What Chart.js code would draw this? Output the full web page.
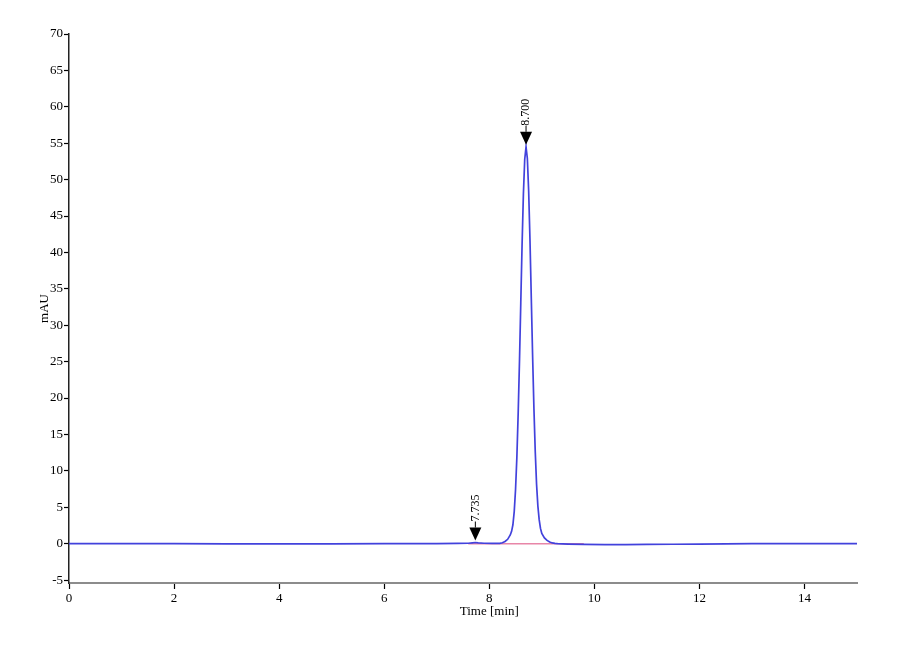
<!DOCTYPE html>
<html>
<head>
<meta charset="utf-8">
<script src="https://cdn.jsdelivr.net/npm/chart.js@4/dist/chart.umd.min.js"></script>
<style>
  html, body { margin: 0; padding: 0; background: #fff; }
  #wrap { width: 900px; height: 660px; }
</style>
</head>
<body>
<div id="wrap"><canvas id="chromChart" width="900" height="660"></canvas></div>
<script>
// ==========================================
// 1. DATA
// ==========================================
const timeMin = [
  0, 1, 2, 3, 4, 5, 6, 6.5, 7, 7.4, 7.6, 7.68, 7.735, 7.79, 7.9, 8.05, 8.2,
  8.25, 8.3, 8.35, 8.4, 8.425, 8.45, 8.475, 8.5, 8.525, 8.55, 8.575, 8.6, 8.625, 8.65, 8.675,
  8.7,
  8.725, 8.75, 8.775, 8.8, 8.825, 8.85, 8.875, 8.9, 8.925, 8.95, 8.975, 9.0, 9.05, 9.1, 9.15, 9.2, 9.25,
  9.3, 9.5, 9.8, 10.2, 10.6, 11, 11.5, 12, 12.5, 13, 13.5, 14, 14.5, 15
];
const signalMAU = [
  0.0, 0.0, 0.0, -0.02, -0.03, -0.02, 0.0, 0.0, 0.02, 0.03, 0.06, 0.12, 0.16, 0.12, 0.06, 0.04, 0.04,
  0.12, 0.3, 0.6, 1.2, 1.7, 2.6, 4.4, 7.4, 11.8, 17.8, 25.0, 33.1, 41.2, 48.1, 52.8,
  54.5,
  52.9, 48.4, 41.7, 33.7, 25.8, 18.6, 12.7, 8.2, 5.2, 3.3, 2.1, 1.4, 0.8, 0.45, 0.22, 0.1, 0.04,
  0.0, -0.05, -0.1, -0.12, -0.12, -0.1, -0.08, -0.05, -0.03, 0.0, 0.02, 0.02, 0.0, 0.0
];

// integration baseline (pink) under the peaks
const baseTime = [7.6, 9.8];
const baseMAU = [0.0, 0.0];

// peak marks
const peakTimes = [7.735, 8.700];
const peakHeights = [0.16, 54.5];
const peakLabels = ["7.735", "8.700"];

// axes
const xTicks = [0, 2, 4, 6, 8, 10, 12, 14];
const yTicks = [-5, 0, 5, 10, 15, 20, 25, 30, 35, 40, 45, 50, 55, 60, 65, 70];

const SERIF = "'Liberation Serif', 'DejaVu Serif', serif";

// ==========================================
// 2. PLUGIN: AXIS TITLES + PEAK MARKERS
// ==========================================
const chromDecor = {
  id: 'chromDecor',
  afterDatasetsDraw(chart) {
    const ctx = chart.ctx;
    const xs = chart.scales.x;
    const ys = chart.scales.y;

    ctx.save();
    peakTimes.forEach((t, i) => {
      const px = xs.getPixelForValue(t);
      const py = ys.getPixelForValue(peakHeights[i]) - 2;
      // triangle pointing down
      ctx.fillStyle = '#000';
      ctx.beginPath();
      ctx.moveTo(px, py);
      ctx.lineTo(px - 6, py - 13);
      ctx.lineTo(px + 6, py - 13);
      ctx.closePath();
      ctx.fill();
      // short stem
      ctx.strokeStyle = '#000';
      ctx.lineWidth = 1;
      ctx.beginPath();
      ctx.moveTo(px, py - 13);
      ctx.lineTo(px, py - 19);
      ctx.stroke();
      // rotated label
      ctx.save();
      ctx.translate(px, py - 19);
      ctx.rotate(-Math.PI / 2);
      ctx.font = '12px ' + SERIF;
      ctx.textAlign = 'left';
      ctx.textBaseline = 'middle';
      ctx.fillText(peakLabels[i], 0, 0);
      ctx.restore();
    });

    // axis titles
    ctx.fillStyle = '#000';
    ctx.font = '13px ' + SERIF;
    ctx.textAlign = 'center';
    ctx.textBaseline = 'middle';
    ctx.fillText('Time [min]', xs.getPixelForValue(8), 612);

    ctx.save();
    ctx.translate(45, (chart.chartArea.top + chart.chartArea.bottom) / 2);
    ctx.rotate(-Math.PI / 2);
    ctx.fillText('mAU', 0, 0);
    ctx.restore();
    ctx.restore();
  }
};

// ==========================================
// 3. CHART
// ==========================================
const ctx = document.getElementById('chromChart').getContext('2d');
new Chart(ctx, {
  type: 'scatter',
  data: {
    datasets: [
      {
        label: 'Signal',
        data: timeMin.map((t, i) => ({ x: t, y: signalMAU[i] })),
        showLine: true,
        borderColor: '#4242dc',
        borderWidth: 1.7,
        pointRadius: 0,
        tension: 0,
        order: 1
      },
      {
        label: 'Baseline',
        data: baseTime.map((t, i) => ({ x: t, y: baseMAU[i] })),
        showLine: true,
        borderColor: '#e886a8',
        borderWidth: 1.5,
        pointRadius: 0,
        order: 2
      }
    ]
  },
  options: {
    responsive: false,
    animation: false,
    layout: { padding: { top: 34, right: 43, left: 0, bottom: 0 } },
    plugins: {
      legend: { display: false },
      tooltip: { enabled: false }
    },
    scales: {
      x: {
        type: 'linear',
        min: 0,
        max: 15,
        border: { color: '#8c8c8c', width: 2 },
        grid: { drawOnChartArea: false, tickLength: 6, color: '#000', tickWidth: 1.2 },
        ticks: { color: '#000', font: { family: SERIF, size: 13 }, padding: 2, maxRotation: 0 },
        afterBuildTicks: s => { s.ticks = xTicks.map(v => ({ value: v })); },
        afterFit: s => { s.height = 77; }
      },
      y: {
        type: 'linear',
        min: -5.4,
        max: 70,
        border: { color: '#222', width: 1.5 },
        grid: { drawOnChartArea: false, tickLength: 5, color: '#000', tickWidth: 1.2 },
        ticks: { color: '#000', font: { family: SERIF, size: 13 }, padding: 1 },
        afterBuildTicks: s => { s.ticks = yTicks.map(v => ({ value: v })); },
        afterFit: s => { s.width = 69; }
      }
    }
  },
  plugins: [chromDecor]
});
</script>
</body>
</html>
